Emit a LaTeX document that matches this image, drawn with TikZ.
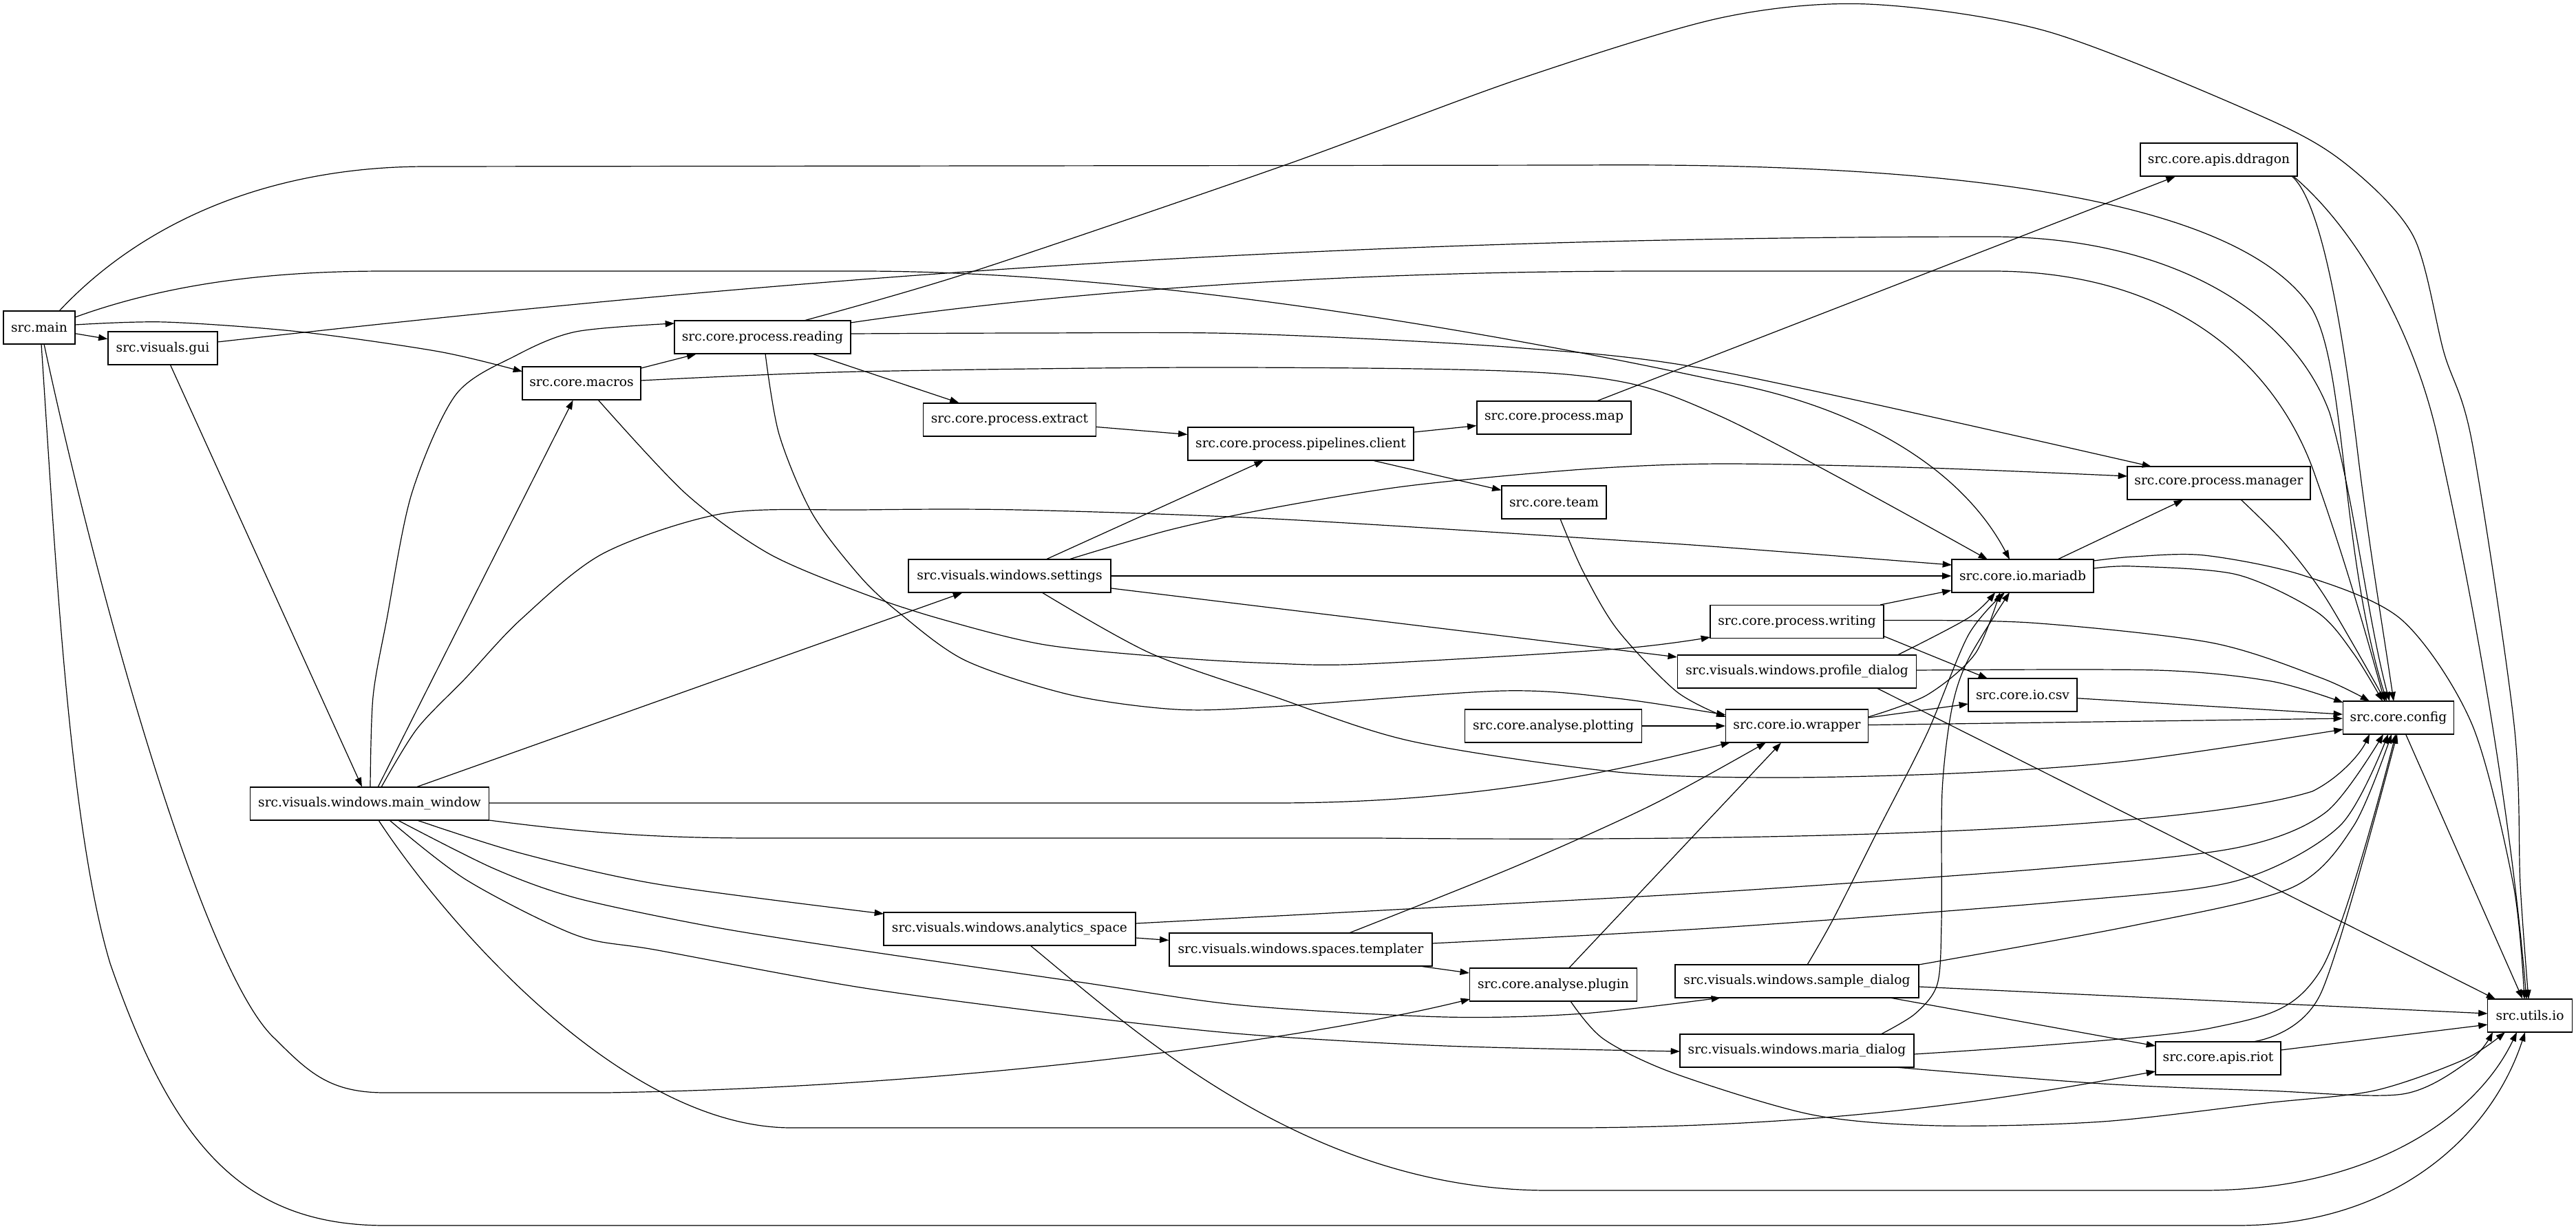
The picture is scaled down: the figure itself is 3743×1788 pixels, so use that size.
\documentclass[tikz,border=0pt]{standalone}
\usepackage{fontspec}
\setmainfont{DejaVu Serif}
\usetikzlibrary{arrows.meta,calc}
\begin{document}
\begin{tikzpicture}[x=0.75pt,y=-0.75pt,
  nbox/.style={draw,rectangle,line width=0.9pt,minimum height=36pt,inner sep=0pt,font=\fontsize{14pt}{17pt}\selectfont},
  e/.style={line width=0.9pt,-{Triangle[length=10pt,width=7pt]}}]
\fill[white] (0,0) rectangle (3743,1788);
\useasboundingbox (0,0) rectangle (3743,1788);
% nodes
\node[nbox,minimum width=78pt] (main) at (57,476) {src.main};
\node[nbox,minimum width=119.25pt] (gui) at (236.5,506) {src.visuals.gui};
\node[nbox,minimum width=260.25pt] (mainwin) at (537,1168) {src.visuals.windows.main\_window};
\node[nbox,minimum width=129pt] (macros) at (845,557) {src.core.macros};
\node[nbox,minimum width=192pt] (reading) at (1108,490) {src.core.process.reading};
\node[nbox,minimum width=188.25pt] (extract) at (1467,610) {src.core.process.extract};
\node[nbox,minimum width=220.5pt] (settings) at (1467,837) {src.visuals.windows.settings};
\node[nbox,minimum width=274.5pt] (analytics) at (1467,1350) {src.visuals.windows.analytics\_space};
\node[nbox,minimum width=246pt] (pipelines) at (1890,645) {src.core.process.pipelines.client};
\node[nbox,minimum width=286.5pt] (templater) at (1890,1380) {src.visuals.windows.spaces.templater};
\node[nbox,minimum width=168pt] (map) at (2258,607) {src.core.process.map};
\node[nbox,minimum width=114pt] (team) at (2258,730) {src.core.team};
\node[nbox,minimum width=192.75pt] (plotting) at (2257,1055) {src.core.analyse.plotting};
\node[nbox,minimum width=182.25pt] (plugin) at (2257,1431) {src.core.analyse.plugin};
\node[nbox,minimum width=189pt] (writing) at (2611,903.5) {src.core.process.writing};
\node[nbox,minimum width=260.25pt] (profile) at (2611,976) {src.visuals.windows.profile\_dialog};
\node[nbox,minimum width=155.25pt] (wrapper) at (2611,1055) {src.core.io.wrapper};
\node[nbox,minimum width=265.5pt] (sample) at (2611,1426) {src.visuals.windows.sample\_dialog};
\node[nbox,minimum width=255pt] (maria) at (2611,1527) {src.visuals.windows.maria\_dialog};
\node[nbox,minimum width=154.5pt] (mariadb) at (2939,837) {src.core.io.mariadb};
\node[nbox,minimum width=118.5pt] (csv) at (2939,1010) {src.core.io.csv};
\node[nbox,minimum width=171pt] (ddragon) at (3224,232) {src.core.apis.ddragon};
\node[nbox,minimum width=199.5pt] (manager) at (3224,702) {src.core.process.manager};
\node[nbox,minimum width=136.5pt] (riot) at (3223,1538) {src.core.apis.riot};
\node[nbox,minimum width=120.75pt] (config) at (3485,1043) {src.core.config};
\node[nbox,minimum width=92.25pt] (utils) at (3676,1476) {src.utils.io};
% src.main
\draw[e] (main) -- (gui);
\draw[e] plot[smooth] coordinates {($(main)+(52,-4)$) (239,468) (434,482) (638,511) ($(macros)+(-86,-17)$)};
\draw[e] ($(main)+(29,-24)$) .. controls (200,330) and (380,242) .. (620,242) -- (2300,240) .. controls (2800,236) and (3250,280) .. (3360,450) .. controls (3410,540) and (3400,800) .. ($(config)+(-17,-24)$);
\draw[e] ($(main)+(52,-15)$) .. controls (250,410) and (400,394) .. (560,394) -- (1250,394) .. controls (1700,394) and (2250,500) .. (2500,554) .. controls (2700,590) and (2850,680) .. ($(mariadb)+(-19,-24)$);
\draw[e] ($(main)+(3,24)$) .. controls (80,800) and (100,1200) .. (160,1400) .. controls (250,1660) and (350,1781) .. (560,1781) -- (3250,1781) .. controls (3480,1781) and (3620,1650) .. ($(utils)+(-7,24)$);
\draw[e] ($(main)+(7,24)$) .. controls (150,900) and (300,1420) .. (400,1510) .. controls (450,1560) and (480,1588) .. (560,1588) -- (880,1588) .. controls (1400,1580) and (1900,1510) .. ($(plugin)+(-121,21)$);
% gui
\draw[e] (gui) -- (mainwin);
\draw[e] ($(gui)+(79.5,-9)$) .. controls (1000,420) and (1800,344) .. (2900,344) .. controls (3150,346) and (3330,450) .. (3385,600) .. controls (3420,720) and (3440,900) .. ($(config)+(-13,-24)$);
% macros
\draw[e] (macros) -- (reading);
\draw[e] plot[smooth] coordinates {($(macros)+(86,-4)$) (1250,540) (1808,534) (2286,545) (2500,605) ($(mariadb)+(-51,-24)$)};
\draw[e] plot[smooth] coordinates {($(macros)+(24,24)$) (996,717) (1116,804) (1250,861) (1365,899) (1518,937) (1709,956) (1850,964) (1983,965) (2350,943) ($(writing)+(-126,22.5)$)};
% reading
\draw[e] (reading) -- (extract);
\draw[e] plot[smooth] coordinates {($(reading)+(128,-5)$) (1500,484) (1808,485) (2200,505) (2500,540) ($(manager)+(-98,-24)$)};
\draw[e] ($(reading)+(128,-21)$) .. controls (1500,430) and (1900,394) .. (2400,394) -- (2900,394) .. controls (3150,396) and (3300,520) .. (3360,680) .. controls (3410,820) and (3440,930) .. ($(config)+(-20,-24)$);
\draw[e] plot[smooth] coordinates {($(reading)+(60,-24)$) (1409,396) (1864,241) (2207,115) (2500,26) (2714,6) (2976,46) (3293,172) (3412,241) (3507,344) (3551,512) (3592,643) (3653,1053) (3662,1286) ($(utils)+(-2,-24)$)};
\draw[e] plot[smooth] coordinates {($(reading)+(4,24)$) (1132,631) (1180,746) (1250,838) (1307,891) (1403,960) (1556,1010) (1709,1031) (1850,1027) (2183,1004) (2350,1015) ($(wrapper)+(-103.5,-16)$)};
% process chain
\draw[e] (extract) -- (pipelines);
\draw[e] (pipelines) -- (map);
\draw[e] (pipelines) -- (team);
\draw[e] (map) -- (ddragon);
\draw[e] plot[smooth] coordinates {($(team)+(9,24)$) (2300,830) (2350,915) (2436,1005) ($(wrapper)+(-103.5,-13)$)};
\draw[e] (plotting) -- (wrapper);
% settings
\draw[e] (settings) -- (pipelines);
\draw[e] plot[smooth] coordinates {($(settings)+(86,-24)$) (1700,770) (1850,738) (2047,706) (2300,682) (2500,674) (2800,680) ($(manager)+(-133,-10)$)};
\draw[e] (settings) -- (mariadb);
\draw[e] (settings) -- (profile);
\draw[e] plot[smooth] coordinates {($(settings)+(47,24)$) (1671,949) (1850,1012) (2050,1077) (2350,1122) (2586,1130) (2860,1123) (3100,1105) ($(config)+(-80.5,17)$)};
% main_window
\draw[e] plot[smooth] coordinates {($(mainwin)+(1,-24)$) (542,1013) (562,900) (598,718) (662,574) (749,517) (837,482) ($(reading)+(-128,-20)$)};
\draw[e] (mainwin) -- (macros);
\draw[e] plot[smooth] coordinates {($(mainwin)+(17,-24)$) (606,1059) (677,985) (757,900) (877,804) (1052,746) (1250,741) (1480,741) (1850,754) (2350,785) (2500,795) ($(mariadb)+(-103,-16)$)};
\draw[e] (mainwin) -- (settings);
\draw[e] ($(mainwin)+(173.5,-1)$) -- (1850,1167) .. controls (2150,1167) and (2350,1120) .. ($(wrapper)+(-97,24)$);
\draw[e] ($(mainwin)+(173.5,24)$) .. controls (850,1210) and (950,1218) .. (1100,1218) -- (2000,1218) .. controls (2700,1225) and (3200,1200) .. (3360,1150) .. controls (3400,1130) and (3430,1095) .. ($(config)+(-42,24)$);
\draw[e] plot[smooth] coordinates {($(mainwin)+(69,24)$) (757,1240) (956,1285) ($(analytics)+(-183,-22)$)};
\draw[e] plot[smooth] coordinates {($(mainwin)+(41,24)$) (717,1262) (837,1305) (1036,1347) (1250,1381) (1567,1427) (1805,1461) (2100,1478) (2300,1473) ($(sample)+(-111,24)$)};
\draw[e] plot[smooth] coordinates {($(mainwin)+(29,24)$) (678,1279) (837,1359) (956,1381) (1250,1435) (1550,1475) (1808,1503) (2100,1520) ($(maria)+(-170,1)$)};
\draw[e] ($(mainwin)+(13,24)$) .. controls (640,1330) and (900,1639) .. (1150,1639) -- (2300,1639) .. controls (2700,1636) and (2950,1590) .. ($(riot)+(-91,19)$);
% analytics
\draw[e] (analytics) -- (templater);
\draw[e] plot[smooth] coordinates {($(analytics)+(183,-8)$) (2100,1318) (2500,1296) (2976,1262) (3250,1232) (3380,1180) ($(config)+(-22,24)$)};
\draw[e] ($(analytics)+(30,24)$) .. controls (1650,1500) and (1900,1730) .. (2250,1730) -- (3200,1730) .. controls (3450,1730) and (3600,1620) .. ($(utils)+(-19,24)$);
% templater
\draw[e] plot[smooth] coordinates {($(templater)+(70,-24)$) (2200,1260) (2400,1170) ($(wrapper)+(-45,24)$)};
\draw[e] plot[smooth] coordinates {($(templater)+(191,-9)$) (2500,1348) (3000,1310) (3250,1280) (3400,1200) ($(config)+(-15,24)$)};
\draw[e] (templater) -- (plugin);
% plugin
\draw[e] (plugin) -- (wrapper);
\draw[e] plot[smooth] coordinates {($(plugin)+(25,24)$) (2330,1510) (2433,1560) (2633,1620) (2817,1636) (3055,1630) (3293,1603) (3450,1585) (3580,1540) ($(utils)+(-36,24)$)};
% writing
\draw[e] (writing) -- (mariadb);
\draw[e] plot[smooth] coordinates {($(writing)+(126,-2)$) (2950,905) (3213,934) (3372,985) ($(config)+(-42,-24)$)};
\draw[e] ($(writing)+(126,21)$) -- ($(csv)+(-51,-24)$);
% profile
\draw[e] plot[smooth] coordinates {($(profile)+(146,-24)$) (2860,898) ($(mariadb)+(-40,24)$)};
\draw[e] plot[smooth] coordinates {($(profile)+(173.5,-2)$) (3134,974) (3300,990) ($(config)+(-80.5,-22)$)};
\draw[e] ($(profile)+(116,24)$) -- ($(utils)+(-50,-24)$);
% wrapper, csv
\draw[e] plot[smooth] coordinates {($(wrapper)+(103.5,-13)$) (2800,1010) (2870,950) ($(mariadb)+(-33,24)$)};
\draw[e] ($(wrapper)+(103.5,-12)$) -- ($(csv)+(-79,13)$);
\draw[e] (wrapper) -- (config);
\draw[e] (csv) -- (config);
% sample
\draw[e] plot[smooth] coordinates {($(sample)+(15,-24)$) (2663,1337) (2728,1208) (2800,1066) (2860,923) ($(mariadb)+(-26,24)$)};
\draw[e] plot[smooth] coordinates {($(sample)+(177,-24)$) (3100,1345) (3330,1290) (3420,1200) ($(config)+(-10,24)$)};
\draw[e] ($(sample)+(177,8)$) -- ($(utils)+(-61.5,-3)$);
\draw[e] ($(sample)+(135,24)$) -- ($(riot)+(-91,-18)$);
% maria
\draw[e] plot[smooth] coordinates {($(maria)+(122,-24)$) (2783,1473) (2815,1430) (2821,1340) (2822,1150) (2836,1030) (2860,958) ($(mariadb)+(-19,24)$)};
\draw[e] plot[smooth] coordinates {($(maria)+(170,5)$) (3213,1494) (3372,1410) ($(config)+(-4,24)$)};
\draw[e] plot[smooth] coordinates {($(maria)+(143,24)$) (3055,1575) (3293,1585) (3491,1590) (3590,1540) ($(utils)+(-54,24)$)};
% mariadb
\draw[e] (mariadb) -- (manager);
\draw[e] plot[smooth] coordinates {($(mariadb)+(103,-11)$) (3100,823) (3250,835) (3366,889) (3420,950) ($(config)+(-23,-24)$)};
\draw[e] plot[smooth] coordinates {($(mariadb)+(103,-22)$) (3100,809) (3203,807) (3346,836) (3490,901) (3592,1053) (3652,1286) ($(utils)+(-8,-24)$)};
% manager, ddragon
\draw[e] plot[smooth] coordinates {($(manager)+(32,24)$) (3320,790) (3380,870) ($(config)+(-19,-24)$)};
\draw[e] ($(ddragon)+(106,24)$) .. controls (3370,290) and (3400,450) .. (3424,643) .. controls (3440,780) and (3465,930) .. ($(config)+(-7,-24)$);
\draw[e] ($(ddragon)+(108,24)$) .. controls (3420,330) and (3510,480) .. (3545,650) .. controls (3600,900) and (3650,1200) .. ($(utils)+(-5,-24)$);
% riot, config
\draw[e] plot[smooth] coordinates {($(riot)+(50,-24)$) (3372,1444) ($(config)+(-2,24)$)};
\draw[e] ($(riot)+(91,-12)$) -- ($(utils)+(-61.5,13)$);
\draw[e] (config) -- (utils);
\end{tikzpicture}
\end{document}
